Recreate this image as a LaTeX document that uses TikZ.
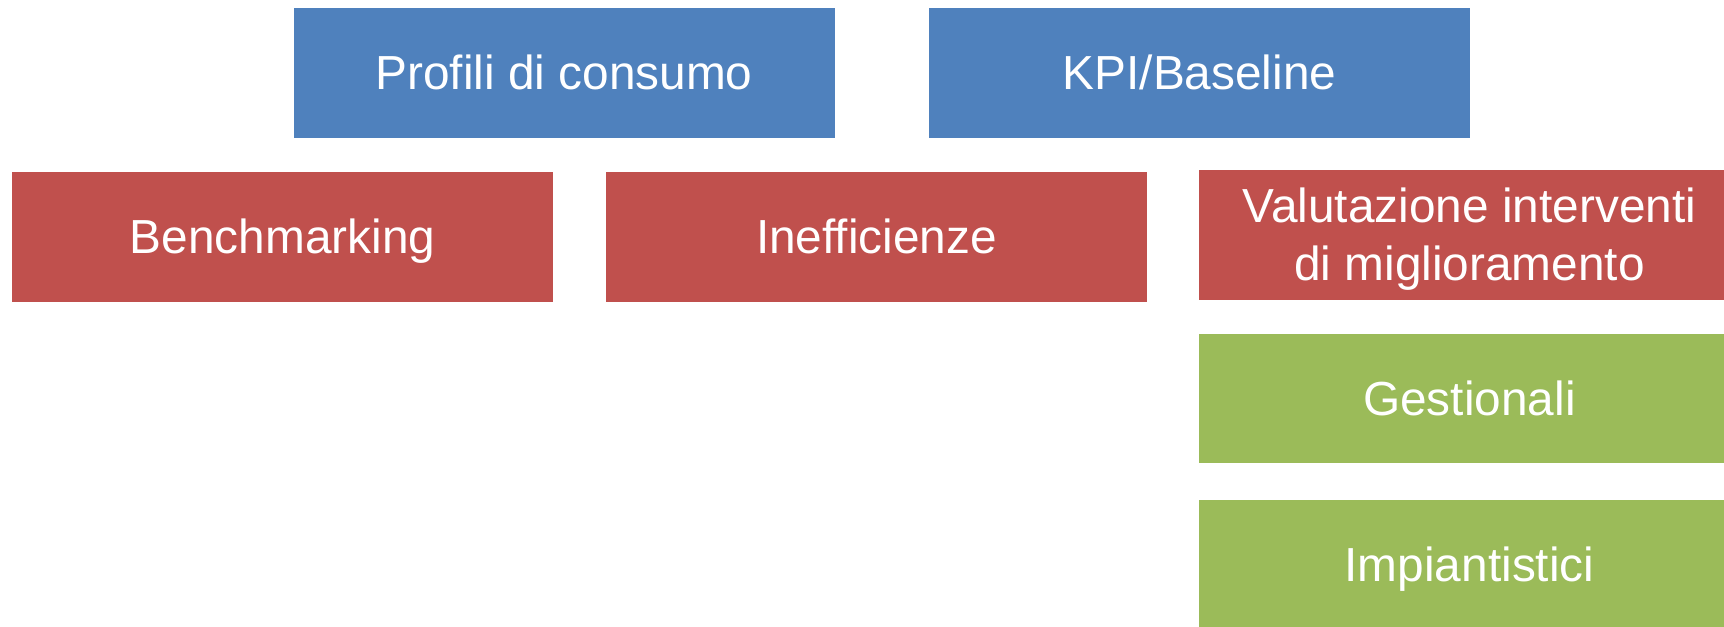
\documentclass[tikz,border=0pt]{standalone}
\usepackage{fontspec}
\setmainfont{Liberation Sans}
\usepackage{tikz}

\definecolor{boxblue}{HTML}{4F81BD}
\definecolor{boxred}{HTML}{C0504D}
\definecolor{boxgreen}{HTML}{9BBB59}

\newcommand{\topstrut}{\rule{0pt}{24.6pt}}
\newcommand{\botstrut}{\rule[-5.8pt]{0pt}{5.8pt}}

\begin{document}
\begin{tikzpicture}[
    box/.style={minimum width=10.82cm, minimum height=2.6cm, inner sep=0pt,
      text height=24.6pt, text depth=5.8pt,
      text=white, align=center, font=\fontsize{27.2}{33}\selectfont},
    bluebox/.style={box, fill=boxblue},
    redbox/.style={box, fill=boxred},
    greenbox/.style={box, fill=boxgreen}
  ]
    \useasboundingbox (0,0) rectangle (34.48,12.54);

    % Top row:
    \node[bluebox] (profili) at (11.28,11.08) {Profili di consumo};
    \node[bluebox] (kpi) at (23.99,11.08) {KPI/Baseline};

    % Middle row:
    \node[redbox] (bench) at (5.65,7.80) {Benchmarking};
    \node[redbox] (ineff) at (17.53,7.80) {Inefficienze};
    \node[redbox, text height={}, text depth={}] (valut) at (29.39,7.84)
      {\topstrut Valutazione interventi\\di miglioramento\botstrut};

    % Right column:
    \node[greenbox, minimum height=2.58cm] (gest) at (29.39,4.57) {Gestionali};
    \node[greenbox] (impi) at (29.39,1.24) {Impiantistici};
  \end{tikzpicture}
\end{document}
